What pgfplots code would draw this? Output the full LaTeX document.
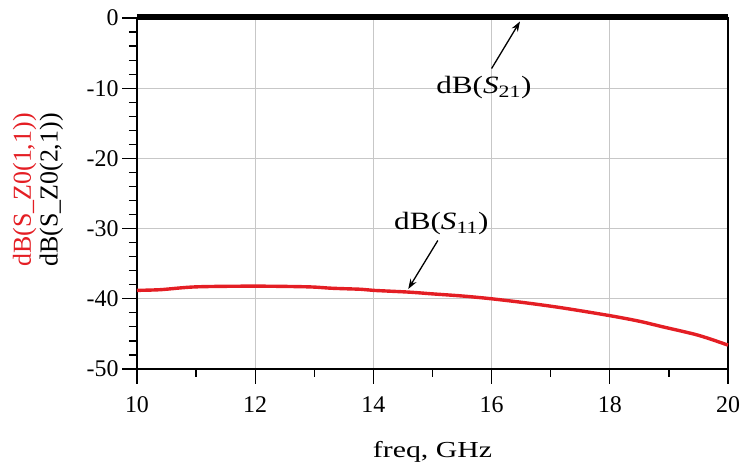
\documentclass[border=0pt]{standalone}
\usepackage{pgfplots}
\pgfplotsset{compat=1.18}
\usepackage{fontspec}
\setmainfont{Liberation Serif}
\usetikzlibrary{arrows.meta}
\definecolor{sred}{RGB}{228,30,36}
\begin{document}
\begin{tikzpicture}
\begin{axis}[
  scale only axis, width=591bp, height=351bp,
  xmin=10, xmax=20, ymin=-50, ymax=0,
  xtick={10,12,14,16,18,20}, xticklabels={10,12,14,16,18,20},
  ytick={-50,-40,-30,-20,-10,0}, yticklabels={-50,-40,-30,-20,-10,0},
  minor x tick num=1, minor y tick num=4,
  tick align=outside, xtick pos=bottom, ytick pos=left,
  major tick length=15bp, minor tick length=8bp,
  every tick/.style={black, line width=1.2bp},
  grid=major, major grid style={black!22, line width=1bp},
  axis line style={line width=1.3bp},
  tick label style={font=\fontsize{24}{28}\selectfont},
  xticklabel style={yshift=-9bp},
  clip=false,
  xlabel={\scalebox{1.3}[1]{freq, GHz}},
  xlabel style={font=\fontsize{23}{28}\selectfont, at={(axis description cs:0.5,0)}, anchor=center, yshift=-83bp},
  ylabel={\textcolor{sred}{dB(S\_Z0(1,1))}\\dB(S\_Z0(2,1))},
  ylabel style={font=\fontsize{26}{27}\selectfont, align=center, at={(axis description cs:-0.1675,0.51)}, anchor=center},
]
\addplot[black, line width=6bp] coordinates {(10,0.15) (20,0.15)};
\addplot[sred, line width=3.4bp, smooth] coordinates {
(10.0,-38.8) (10.4,-38.7) (11.0,-38.3) (12.0,-38.2) (12.9,-38.3) (13.3,-38.5)
(13.8,-38.65) (14.0,-38.8) (14.6,-39.05) (15.0,-39.3) (15.5,-39.6) (16.0,-40.0)
(16.6,-40.6) (17.2,-41.3) (18.0,-42.4) (18.5,-43.2) (18.9,-44.0) (19.5,-45.2) (20.0,-46.6)};
\node[font=\fontsize{25}{28}\selectfont] at (axis cs:15.87,-9.9) {\scalebox{1.25}[1]{dB(\textit{S}\textsubscript{21})}};
\draw[-{Stealth[length=10bp,width=7bp]}, line width=1.3bp] (axis cs:16.0,-7.2) -- (axis cs:16.48,-0.5);
\node[font=\fontsize{25}{28}\selectfont] at (axis cs:15.15,-29.3) {\scalebox{1.25}[1]{dB(\textit{S}\textsubscript{11})}};
\draw[-{Stealth[length=10bp,width=7bp]}, line width=1.3bp] (axis cs:15.09,-31.7) -- (axis cs:14.59,-38.6);
\path (rel axis cs:0,0) ++(-137bp,-99bp) coordinate (bbsw);
\path (rel axis cs:1,1) ++(17bp,18bp) coordinate (bbne);
\end{axis}
\pgfresetboundingbox
\useasboundingbox (bbsw) rectangle (bbne);
\end{tikzpicture}
\end{document}
